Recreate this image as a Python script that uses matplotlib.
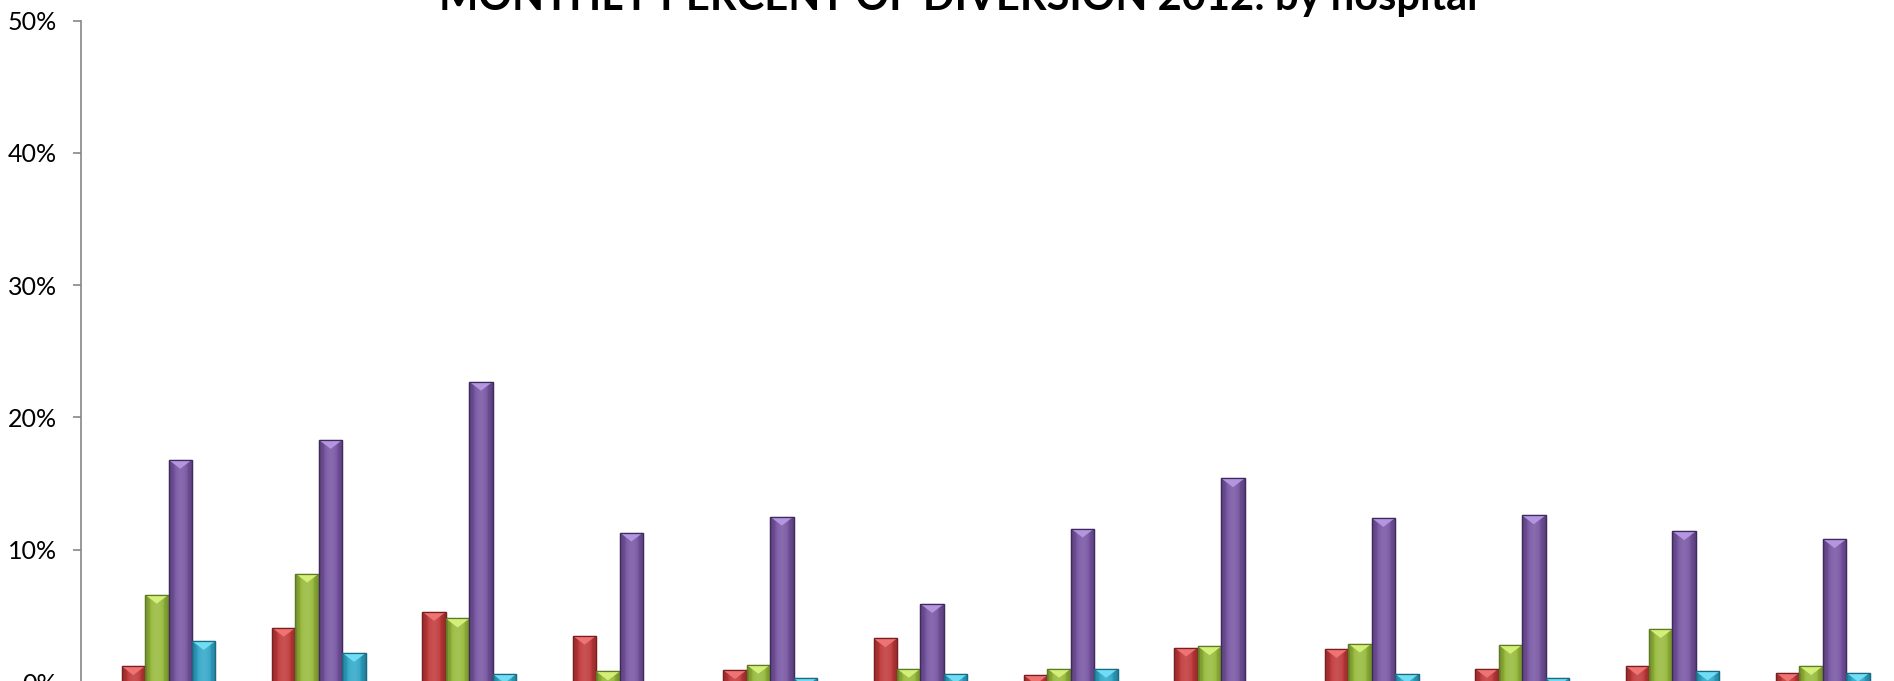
import numpy as np
import matplotlib
matplotlib.use("Agg")
from matplotlib import pyplot as plt
from matplotlib.patches import Polygon
from matplotlib.colors import to_rgb
from matplotlib.ticker import PercentFormatter

# monthly diversion share by hospital (fractions), 12 months of 2012
months = ["Jan", "Feb", "Mar", "Apr", "May", "Jun", "Jul", "Aug", "Sep", "Oct", "Nov", "Dec"]
hospital_a = [0.012, 0.041, 0.053, 0.035, 0.009, 0.033, 0.005, 0.026, 0.025, 0.010, 0.012, 0.007]
hospital_b = [0.066, 0.082, 0.048, 0.008, 0.013, 0.010, 0.010, 0.027, 0.029, 0.028, 0.040, 0.012]
hospital_c = [0.168, 0.183, 0.227, 0.113, 0.125, 0.059, 0.116, 0.154, 0.124, 0.126, 0.114, 0.108]
hospital_d = [0.031, 0.022, 0.006, 0.0, 0.003, 0.006, 0.010, 0.0, 0.006, 0.003, 0.008, 0.007]

series = [hospital_a, hospital_b, hospital_c, hospital_d]
base_colors = ["#C0393A", "#97BA3C", "#7755A2", "#32A7C8"]
edge_colors = ["#7A1F20", "#5E7A22", "#3E2A5E", "#1C6A82"]
light_colors = ["#EE7372", "#D3EF78", "#B395E0", "#6FDDF3"]

W, H = 1894, 681
fig = plt.figure(figsize=(W / 100, H / 100), dpi=100)
ax = fig.add_axes([81 / W, (H - 682) / H, (W - 81) / W, (682 - 20.5) / H])

ax.set_xlim(-0.582, 11.473)
ax.set_ylim(0, 0.5)

width = 0.156
x = np.arange(len(months))
offsets = [-1.5, -0.5, 0.5, 1.5]

ax_h_px = (682 - 20.5)
tri_depth = 9 / ax_h_px * 0.5


def shade(c, f):
    r, g, b = to_rgb(c)
    if f >= 0:
        return (r + (1 - r) * f, g + (1 - g) * f, b + (1 - b) * f)
    return (r * (1 + f), g * (1 + f), b * (1 + f))


for vals, off, col, ecol, lcol in zip(series, offsets, base_colors, edge_colors, light_colors):
    bars = ax.bar(x + off * width, vals, width, color=col, edgecolor=ecol, linewidth=0.9, zorder=2)
    # horizontal shading, darker at the sides
    grad = np.linspace(-1, 1, 40)
    prof = np.array([shade(col, 0.12 - 0.35 * g * g) if g * g < 0.34 else shade(col, -0.25 * g * g)
                     for g in grad])
    for b, v in zip(bars, vals):
        if v <= 0:
            b.set_visible(False)
            continue
        x0 = b.get_x()
        x1 = x0 + b.get_width()
        im = ax.imshow(prof[np.newaxis, :, :], extent=[x0, x1, 0, v], aspect="auto",
                       interpolation="bilinear", zorder=2.1)
        im.set_clip_path(b)
        xc = (x0 + x1) / 2
        tri = Polygon([[x0, v], [x1, v], [xc, v - tri_depth]], closed=True,
                      facecolor=lcol, edgecolor="none", zorder=2.2)
        ax.add_patch(tri)
        tri.set_clip_path(b)
        ax.add_patch(Polygon([[x0, 0], [x0, v], [x1, v], [x1, 0]], closed=True,
                             facecolor="none", edgecolor=ecol, linewidth=0.9, zorder=2.3))

ax.set_yticks(np.arange(0, 0.51, 0.1))
ax.yaxis.set_major_formatter(PercentFormatter(1.0, decimals=0))
ax.set_xticks([])
ax.tick_params(axis="y", direction="out", length=5.5, width=1.2, color="#868686",
               labelsize=18, pad=12)
for lab in ax.get_yticklabels():
    lab.set_fontfamily(["Lato", "DejaVu Sans"])

for s in ["top", "right", "bottom"]:
    ax.spines[s].set_visible(False)
ax.spines["left"].set_color("#868686")
ax.spines["left"].set_linewidth(1.2)

fig.text(958 / W, 1 - 10 / H, "MONTHLY PERCENT OF DIVERSION 2012: by hospital",
         ha="center", va="baseline", fontsize=30, fontweight="bold",
         family=["Lato", "DejaVu Sans"])

fig.savefig("out.png", dpi=100)
